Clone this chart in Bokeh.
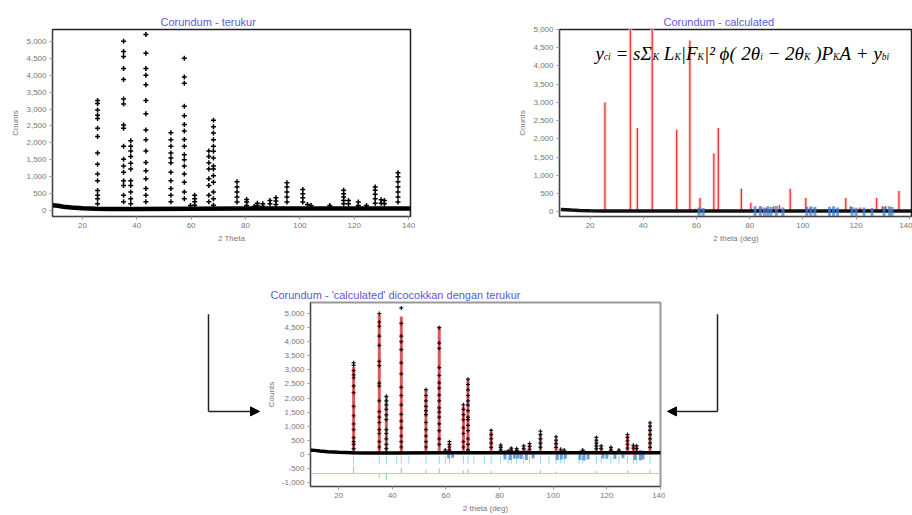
from bokeh.plotting import figure
from bokeh.layouts import column, row
from bokeh.models import Range1d, NumeralTickFormatter, FixedTicker, Arrow, NormalHead, ColumnDataSource
from bokeh.core.properties import value
from bokeh.embed import file_html
from bokeh.resources import INLINE

# ---------------- data ----------------
peak_pos = [25.58, 35.15, 37.78, 41.68, 43.36, 46.18, 52.55, 57.50, 59.74, 61.30,
            66.52, 68.21, 70.42, 74.30, 76.87, 80.42, 83.21, 84.36, 86.36, 88.99,
            91.18, 95.24, 98.40, 101.07, 102.80, 104.10, 109.60, 111.00, 116.10, 117.90,
            121.50, 124.50, 127.70, 129.90, 131.10, 136.10]

# calculated intensities before fitting (top right)
calc_initial = [3000, 5300, 2300, 60, 5300, 50, 2250, 4700, 80, 380,
                1600, 2300, 60, 50, 630, 250, 80, 120, 100, 150,
                180, 630, 60, 380, 100, 80, 50, 80, 380, 150,
                120, 80, 380, 150, 150, 570]

# calculated intensities after fitting (bottom)
calc_fit = [3100, 4950, 2050, 60, 4900, 50, 2300, 4550, 100, 380,
            1700, 2650, 60, 60, 800, 300, 100, 200, 180, 280,
            350, 750, 80, 550, 150, 120, 60, 150, 550, 280,
            230, 150, 650, 300, 280, 1050]

# measured points in each peak column (counts)
obs_cols = [
    [3250, 3160, 2970, 2820, 2720, 2430, 2190, 1700, 1370, 1080, 880, 590, 450, 350, 200],
    [5000, 4700, 4550, 4200, 3870, 3300, 3150, 2530, 2430, 1900, 1520, 1320, 1130, 880, 740, 450, 260],
    [2060, 1900, 1760, 1600, 1400, 1230, 880, 740, 550, 350, 200],
    [],
    [5200, 4650, 4200, 4000, 3720, 3250, 2860, 2380, 2090, 1760, 1420, 1180, 940, 650, 450, 260],
    [],
    [2300, 2090, 1900, 1700, 1550, 1410, 1130, 880, 650, 450, 260],
    [4500, 3950, 3760, 3080, 2800, 2540, 2350, 2100, 1900, 1650, 1500, 1320, 1080, 840, 550, 350],
    [150],
    [450, 350, 260, 160],
    [1760, 1600, 1410, 1230, 940, 740, 450, 260],
    [2670, 2480, 2290, 2090, 1900, 1750, 1550, 1320, 1230, 1030, 840, 550, 350, 160],
    [], [],
    [850, 700, 550, 400, 250],
    [330, 250, 150],
    [120],
    [220, 150],
    [200, 130],
    [300, 200],
    [380, 280, 180],
    [820, 700, 550, 400, 250],
    [],
    [620, 500, 380, 250],
    [180],
    [150],
    [],
    [150],
    [600, 500, 400, 300, 200],
    [300, 200],
    [250, 150],
    [150],
    [700, 600, 480, 350, 220],
    [320, 220],
    [300, 200],
    [1120, 1000, 850, 700, 550, 400, 250],
]

# background line
base_x = [9, 11, 13, 16, 20, 25, 30, 40, 60, 80, 100, 120, 141]
base_y = [160, 140, 115, 90, 70, 55, 45, 45, 55, 60, 60, 60, 60]

# blue residual marks near the baseline
blue_x = [61.0, 62.5, 82.0, 84.0, 85.5, 86.8, 88.0, 90.0, 92.5, 101.5, 103.0, 104.5,
          110.0, 111.5, 113.0, 118.5, 120.0, 123.0, 126.0, 130.5, 132.5, 133.5]
blue_top = [120, 100, 150, 160, 120, 150, 130, 160, 120, 140, 150, 130,
            140, 150, 120, 130, 110, 120, 100, 140, 150, 130]
blue_bot = [-150, -120, -180, -200, -160, -150, -170, -200, -150, -200, -180, -160,
            -200, -220, -180, -150, -160, -170, -140, -200, -220, -180]

# difference curve (bottom)
diff_level = -680
diff_pos = [25.58, 35.15, 37.78, 43.36, 52.55, 57.50, 66.52, 68.21, 76.87, 95.24, 101.07, 116.10, 127.70, 136.10]
diff_dev = [250, -150, -250, 200, 120, 180, 100, 150, 90, 110, 70, 80, 90, 130]

titles = ["Corundum - terukur", "Corundum - calculated",
          "Corundum - 'calculated' dicocokkan dengan terukur"]

assert len(peak_pos) == len(calc_initial) == len(calc_fit) == len(obs_cols)

obs_x, obs_y = [], []
for pos, col in zip(peak_pos, obs_cols):
    for v in col:
        obs_x.append(pos)
        obs_y.append(v)

TICK_FONT = "Liberation Sans"


def style(p, yticks):
    p.outline_line_color = "#222222"
    p.outline_line_width = 1.5
    p.xgrid.visible = False
    p.ygrid.visible = False
    p.background_fill_color = "white"
    p.border_fill_color = "white"
    for ax in (p.xaxis[0], p.yaxis[0]):
        ax.major_label_text_font = TICK_FONT
        ax.major_label_text_font_size = "8px"
        ax.major_label_text_color = "#777777"
        ax.axis_label_text_font = TICK_FONT
        ax.axis_label_text_font_size = "8px"
        ax.axis_label_text_color = "#777777"
        ax.axis_label_text_font_style = "normal"
        ax.minor_tick_line_color = None
        ax.major_tick_in = 0
        ax.major_tick_out = 3
        ax.major_tick_line_color = "#999999"
        ax.axis_line_color = "#444444"
        ax.major_label_standoff = 3
        ax.axis_label_standoff = 3
    p.xaxis[0].ticker = FixedTicker(ticks=[20, 40, 60, 80, 100, 120, 140])
    p.yaxis[0].ticker = FixedTicker(ticks=yticks)
    p.yaxis[0].formatter = NumeralTickFormatter(format="0,0")
    p.title.text_font = TICK_FONT
    p.title.text_font_size = "11px"
    p.title.text_font_style = "normal"
    p.title.text_color = "#5b5bd6"
    p.title.align = "left"
    p.title.standoff = 4


common = dict(output_backend="svg", toolbar_location=None)

# ---------------- top left: measured ----------------
p1 = figure(width=420, height=248, x_range=Range1d(9, 140.7), y_range=Range1d(-175, 5350),
            min_border_left=52, min_border_right=10, min_border_top=28, min_border_bottom=30,
            title=titles[0], **common)
style(p1, list(range(0, 5001, 500)))
p1.title.offset = 108
p1.xaxis.axis_label = "2 Theta"
p1.yaxis.axis_label = "Counts"
p1.line(base_x, base_y, line_width=4.5, color="black")
p1.scatter(obs_x, obs_y, marker="cross", size=5, line_width=1.5, color="black")

# ---------------- top right: calculated ----------------
p2 = figure(width=492, height=248, x_range=Range1d(8.5, 141.2), y_range=Range1d(-130, 5000),
            min_border_left=139, min_border_right=0, min_border_top=29, min_border_bottom=32,
            title=titles[1], **common)
style(p2, list(range(0, 5001, 500)))
p2.title.offset = 104
p2.xaxis.axis_label = "2 theta (deg)"
p2.yaxis.axis_label = "Counts"
zeros = [0] * len(peak_pos)
p2.segment(x0=peak_pos, y0=zeros, x1=peak_pos, y1=calc_initial, line_width=4, color="#fbdcdc")
p2.segment(x0=peak_pos, y0=zeros, x1=peak_pos, y1=calc_initial, line_width=1.3, color="#e23a3a")
p2.line(base_x, [v * 0.4 for v in base_y], line_width=3.5, color="#111111")
p2.segment(x0=blue_x, y0=blue_bot, x1=blue_x, y1=blue_top, line_width=3, color="#3f7fd0", alpha=0.75)

# formula  y_ci = s Σ_K L_K |F_K|² φ(2θ_i − 2θ_K) P_K A + y_bi
W = {'y': .444, ' ': .25, '=': .675, 's': .389, 'Σ': .65, 'L': .556, '|': .275, 'F': .611,
     '²': .3, 'ϕ': .55, '(': .333, '2': .5, 'θ': .5, '−': .675, ')': .333, 'P': .611,
     'A': .611, '+': .675, 'c': .444, 'i': .278, 'K': .667, 'b': .5}
segs = [("y", 0), ("ci", 1), (" =", 0), (" s", 0), ("Σ", 0), ("K", 1), (" L", 0), ("K", 1),
        ("|F", 0), ("K", 1), ("|²", 0), (" ϕ(", 0), (" 2θ", 0), ("i", 1), (" −", 0), (" 2θ", 0),
        ("K", 1), (" )P", 0), ("K", 1), ("A", 0), (" +", 0), (" y", 0), ("bi", 1)]
MAIN, SUB = 19, 9.5
fx0, fy0 = 22.0, 4342
main_src = dict(x=[], y=[], t=[], dx=[])
sub_src = dict(x=[], y=[], t=[], dx=[])
off = 0.0
for t, is_sub in segs:
    size = SUB if is_sub else MAIN
    lead = len(t) - len(t.lstrip(" "))
    off += lead * W[" "] * size
    t = t.lstrip(" ")
    d = sub_src if is_sub else main_src
    d["x"].append(fx0)
    d["y"].append(fy0)
    d["t"].append(t)
    d["dx"].append(off)
    off += sum(W.get(ch, .5) for ch in t) * size
p2.text(x="x", y="y", text="t", x_offset="dx", source=ColumnDataSource(main_src),
        text_font=value("Liberation Serif"), text_font_style="italic", text_font_size="19px",
        text_color="black", text_baseline="alphabetic", text_align="left")
p2.text(x="x", y="y", text="t", x_offset="dx", y_offset=4, source=ColumnDataSource(sub_src),
        text_font=value("Liberation Serif"), text_font_style="italic", text_font_size="9.5px",
        text_color="black", text_baseline="alphabetic", text_align="left")

# ---------------- bottom: fitted ----------------
p3 = figure(width=405, height=267, x_range=Range1d(9.5, 140), y_range=Range1d(-1143, 5393),
            min_border_left=50, min_border_right=5, min_border_top=54, min_border_bottom=29,
            title=titles[2], **common)
style(p3, list(range(-1000, 5001, 500)))
p3.outline_line_color = "#999999"
p3.outline_line_width = 2
p3.title.offset = -40
p3.xaxis.axis_label = "2 theta (deg)"
p3.yaxis.axis_label = "Counts"
# reflection ticks
p3.segment(x0=peak_pos, y0=[-60] * len(peak_pos), x1=peak_pos, y1=[-330] * len(peak_pos),
           line_width=1, color="#8fd6ee")
# difference curve
p3.line([9.5, 140], [diff_level, diff_level], line_width=1, color="#9be39b")
p3.segment(x0=diff_pos, y0=[diff_level] * len(diff_pos), x1=diff_pos,
           y1=[diff_level + d for d in diff_dev], line_width=1, color="#8ad88a")
p3.segment(x0=blue_x, y0=blue_bot, x1=blue_x, y1=blue_top, line_width=3, color="#3f7fd0", alpha=0.75)
p3.segment(x0=peak_pos, y0=zeros, x1=peak_pos, y1=calc_fit, line_width=3, color="#d23c3c", alpha=0.85)
p3.line(base_x, base_y, line_width=3.5, color="black")
p3.scatter(obs_x, obs_y, marker="cross", size=4, line_width=1.2, color="#111111")

# ---------------- arrows ----------------
def arrow_fig(width, vx, tip):
    a = figure(width=width, height=267, x_range=Range1d(0, width), y_range=Range1d(267, 0),
               min_border=0, x_axis_location=None, y_axis_location=None, **common)
    a.outline_line_color = None
    a.xgrid.visible = False
    a.ygrid.visible = False
    a.line([vx, vx], [17, 158], line_width=1.5, color="#222222")
    a.add_layout(Arrow(x_start=vx, y_start=158, x_end=tip, y_end=158, line_width=1.5,
                       line_color="#222222",
                       end=NormalHead(size=9, fill_color="black", line_color="black")))
    return a


a1 = arrow_fig(260, 208, 259)
a2 = arrow_fig(247, 52, 2)

layout = column(row(p1, p2), row(a1, p3, a2))

with open("out.html", "w") as f:
    f.write(file_html(layout, INLINE))
